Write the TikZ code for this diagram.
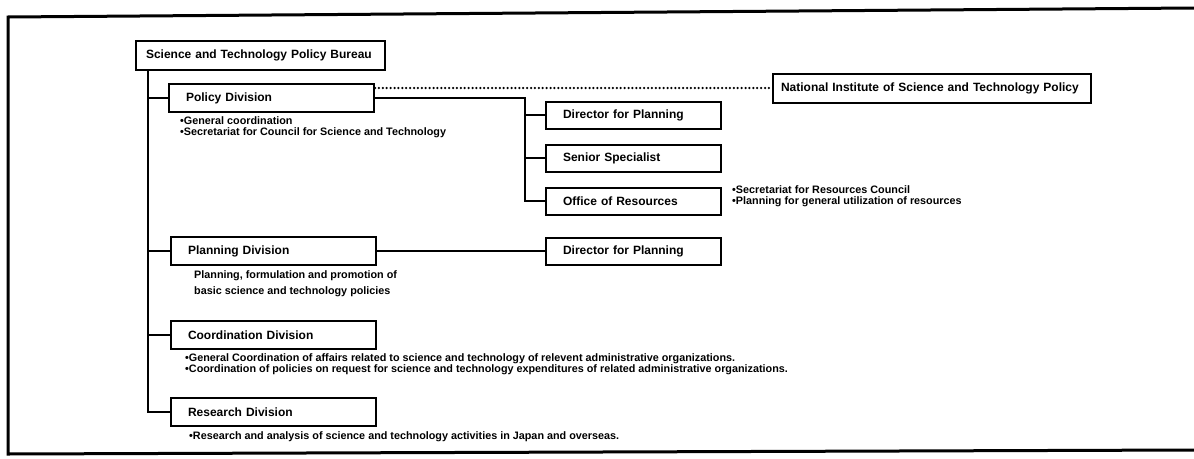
\documentclass[tikz,border=0pt]{standalone}
\usepackage{fontspec}
\setmainfont{Liberation Sans}
\usetikzlibrary{positioning, calc}
\tikzset{
  headbox/.style = {rectangle, draw=black, line width=2pt, fill=white,
                    minimum height=29pt, inner xsep=10pt, align=left,
                    font=\fontsize{12}{14}\selectfont\bfseries},
  divbox/.style  = {rectangle, draw=black, line width=2pt, fill=white,
                    minimum height=28pt, inner xsep=17pt, text width=171pt,
                    align=left, font=\fontsize{12}{14}\selectfont\bfseries},
  subbox/.style  = {divbox, minimum height=27pt, text width=141pt},
  note/.style    = {inner sep=0pt, align=left,
                    font=\fontsize{10.8}{11}\selectfont\bfseries},
  link/.style    = {line width=2pt},
  dots/.style    = {line width=2.5pt, line cap=round, dash pattern=on 0pt off 3.9pt},
  frame/.style   = {line width=3pt},
}

\begin{document}
\begin{tikzpicture}[x=1pt, y=-1pt]
  \useasboundingbox (0,0) rectangle (1194,458);
  \fill[white] (0,0) rectangle (1194,458);
  \draw[frame] (1194,8) -- (8,17) -- (8,454) -- (1194,450);

  \node[headbox, anchor=west, text width=229pt] (bureau) at (135,55)
    {Science and Technology Policy Bureau};

  % divisions
  \node[divbox, anchor=west] (policy) at (168,98) {Policy Division};
  \node[divbox, anchor=west] (planning) at (170,251) {Planning Division};
  \node[divbox, anchor=west] (coordination) at (170,335) {Coordination Division};
  \node[divbox, anchor=west] (research) at (170,412) {Research Division};

  \node[note, below=3pt of policy.south west, anchor=north west, xshift=12pt] (polnote)
    {•General coordination\\
     •Secretariat for Council for Science and Technology};
  \node[note, below=4pt of planning.south west, anchor=north west, xshift=24pt,
        font=\fontsize{10.8}{16}\selectfont\bfseries] (plannote)
    {Planning, formulation and promotion of\\
     basic science and technology policies};
  \node[note, below=3pt of coordination.south west, anchor=north west, xshift=15pt] (coordnote)
    {•General Coordination of affairs related to science and technology of relevent administrative organizations.\\
     •Coordination of policies on request for science and technology expenditures of related administrative organizations.};
  \node[note, below=4pt of research.south west, anchor=north west, xshift=19pt] (resnote)
    {•Research and analysis of science and technology activities in Japan and overseas.};

  % offices under the divisions
  \node[subbox, anchor=west] (dirpol) at (545,115) {Director for Planning};
  \node[subbox, below=14pt of dirpol] (senior) {Senior Specialist};
  \node[subbox, below=14pt of senior] (resources) {Office of Resources};
  \node[subbox, anchor=west] (dirplan) at (dirpol.west |- planning.east) {Director for Planning};

  \node[note, right=10pt of resources.east, anchor=west, yshift=5pt] (resnotes)
    {•Secretariat for Resources Council\\
     •Planning for general utilization of resources};

  \node[headbox, anchor=west, inner xsep=8pt, text width=302pt] (natl) at (772,88)
    {National Institute of Science and Technology Policy};

  % connectors
  \coordinate (trunk) at ([xshift=13pt]bureau.south west);
  \draw[link] (trunk) |- (research.west);
  \draw[link] (trunk |- policy.west) -- (policy.west);
  \draw[link] (trunk |- planning.west) -- (planning.west);
  \draw[link] (trunk |- coordination.west) -- (coordination.west);

  \coordinate (spine) at ([xshift=-20pt]dirpol.west |- policy.east);
  \draw[link] (policy.east) -- (spine) |- (resources.west);
  \draw[link] (spine |- dirpol.west) -- (dirpol.west);
  \draw[link] (spine |- senior.west) -- (senior.west);
  \draw[link] (planning.east) -- (dirplan.west);

  \draw[dots] (policy.east |- natl.west) -- (natl.west);
\end{tikzpicture}
\end{document}
